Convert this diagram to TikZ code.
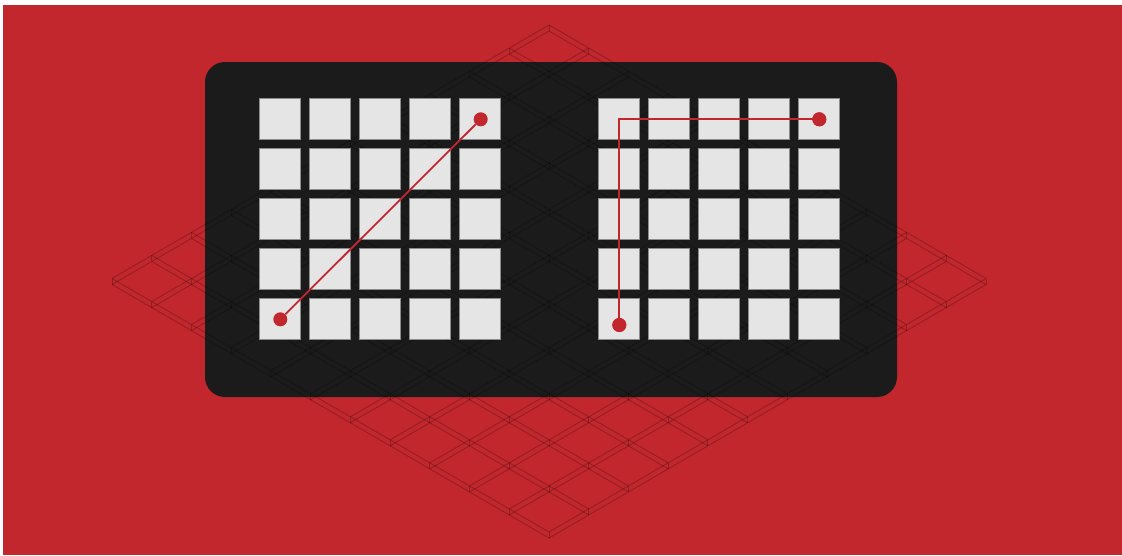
\documentclass[tikz,border=0pt]{standalone}
\definecolor{bgred}{HTML}{C1272D}
\definecolor{panel}{HTML}{1B1B1B}
\definecolor{cell}{HTML}{E5E5E5}
\definecolor{cellrim}{HTML}{8C8C8C}
\tikzset{
  gl/.style={draw=black, draw opacity=0.22, line width=0.9pt},
  sq/.style={draw=cellrim, fill=cell, line width=0.8pt, minimum size=41pt, inner sep=0pt, outer sep=0pt},
  dot/.style={circle, fill=bgred, minimum size=14pt, inner sep=0pt},
  route/.style={draw=bgred, line width=1.8pt},
}
\begin{document}
\begin{tikzpicture}[x=1pt,y=-1pt]
\useasboundingbox (0,0) rectangle (1122,555);
\fill[white] (0,0) rectangle (1122,555);
\fill[bgred] (3,5) rectangle (1122,555);
\fill[panel, rounded corners=20pt] (205,62) rectangle (897,397);
% isometric grid
\foreach \i in {0,...,11}{
  \pgfmathsetmacro\ax{549+39.727*\i}
  \pgfmathsetmacro\ay{25+23.045*\i}
  \pgfmathsetmacro\bx{549-39.727*\i}
  \draw[gl] (\ax,\ay) -- ++(-437,253.5);
  \draw[gl] (\ax,\ay+6) -- ++(-437,253.5);
  \draw[gl] (\bx,\ay) -- ++(437,253.5);
  \draw[gl] (\bx,\ay+6) -- ++(437,253.5);
  \foreach \j in {0,...,11}{
    \draw[gl] ({549+39.727*(\i-\j)},{25+23.045*(\i+\j)}) -- ++(0,6);
  }
}
% cells
\foreach \r in {0,...,4}{
  \foreach \c in {0,...,4}{
    \node[sq] (L\r\c) at (280.3+50*\c, 119.3+50*\r) {};
    \node[sq] (R\r\c) at (619.3+50*\c, 119.3+50*\r) {};
  }
}
% routes
\node[dot] (a1) at (280.3,319.3) {};
\node[dot] (a2) at (480.7,119.3) {};
\node[dot] (b1) at (619.3,325) {};
\node[dot] (b2) at (819.3,119.3) {};
\draw[route] (a1) -- (a2);
\draw[route] (b1.center) |- (b2.center);
\node[dot] at (b1) {};
\node[dot] at (b2) {};
\end{tikzpicture}
\end{document}
